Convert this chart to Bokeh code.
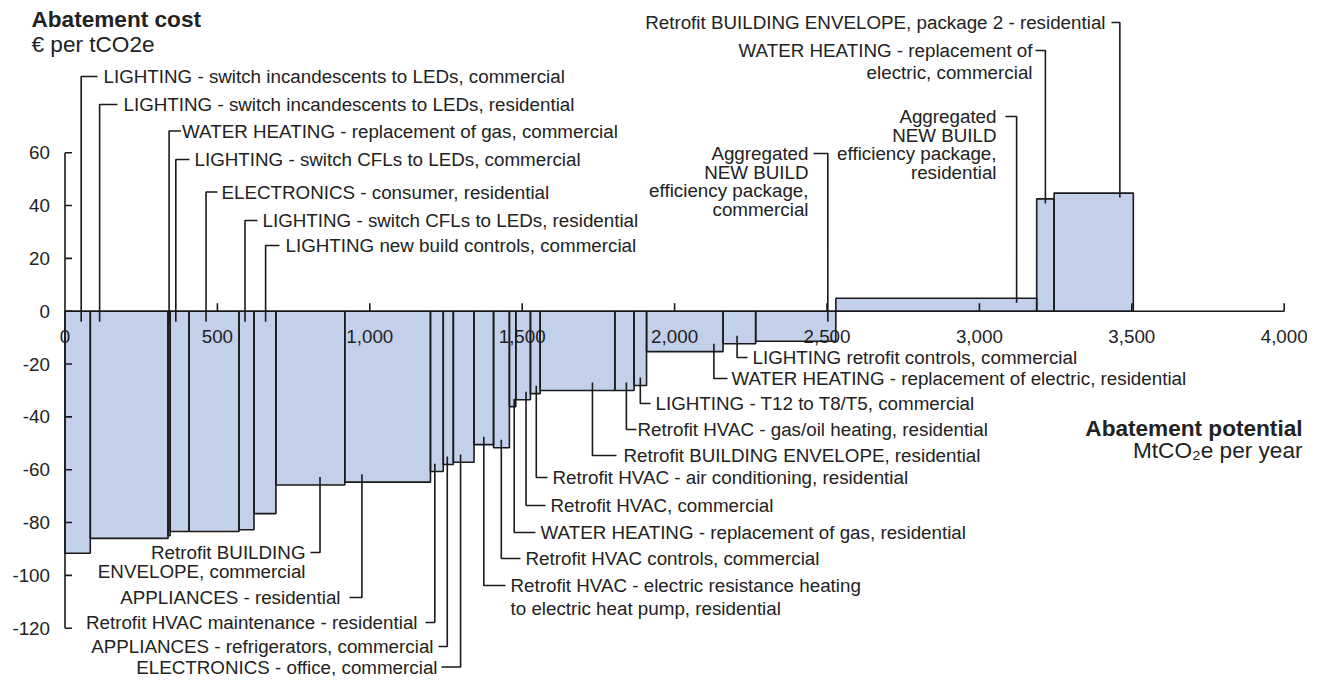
from bokeh.plotting import figure
from bokeh.models import Range1d, ColumnDataSource
from bokeh.core.properties import value
from bokeh.embed import file_html
from bokeh.resources import INLINE

# ---------------- data ----------------
measures = [
    "LIGHTING - switch incandescents to LEDs, commercial",
    "LIGHTING - switch incandescents to LEDs, residential",
    "WATER HEATING - replacement of gas, commercial",
    "LIGHTING - switch CFLs to LEDs, commercial",
    "ELECTRONICS - consumer, residential",
    "LIGHTING - switch CFLs to LEDs, residential",
    "LIGHTING new build controls, commercial",
    "Retrofit BUILDING\nENVELOPE, commercial",
    "APPLIANCES - residential",
    "Retrofit HVAC maintenance - residential",
    "APPLIANCES - refrigerators, commercial",
    "ELECTRONICS - office, commercial",
    "Retrofit HVAC - electric resistance heating\nto electric heat pump, residential",
    "Retrofit HVAC controls, commercial",
    "WATER HEATING - replacement of gas, residential",
    "Retrofit HVAC, commercial",
    "Retrofit HVAC - air conditioning, residential",
    "Retrofit BUILDING ENVELOPE, residential",
    "Retrofit HVAC - gas/oil heating, residential",
    "LIGHTING - T12 to T8/T5, commercial",
    "WATER HEATING - replacement of electric, residential",
    "LIGHTING retrofit controls, commercial",
    "Aggregated\nNEW BUILD\nefficiency package,\ncommercial",
    "Aggregated\nNEW BUILD\nefficiency package,\nresidential",
    "WATER HEATING - replacement of\nelectric, commercial",
    "Retrofit BUILDING ENVELOPE, package 2 - residential",
]
potential = [83, 255, 7, 62, 164, 49, 72, 226, 281, 42, 33, 68, 64, 52, 21,
             48, 32, 245, 63, 41, 251, 107, 263, 659, 57, 260]
cost = [-91.6, -86.0, -85.0, -83.4, -83.4, -82.7, -76.6, -65.8, -64.7, -60.7,
        -58.0, -57.2, -50.5, -51.7, -36.1, -33.5, -31.2, -30.0, -30.0, -28.1,
        -15.3, -12.3, -11.4, 4.9, 42.5, 44.7]

x_ticks = [0, 500, 1000, 1500, 2000, 2500, 3000, 3500, 4000]
x_tick_labels = ["0", "500", "1,000", "1,500", "2,000", "2,500", "3,000", "3,500", "4,000"]
y_ticks = [-120, -100, -80, -60, -40, -20, 0, 20, 40, 60]
y_tick_labels = ["-120", "-100", "-80", "-60", "-40", "-20", "0", "20", "40", "60"]

y_title = ["Abatement cost", "€ per tCO2e"]
x_title = ["Abatement potential", "MtCO₂e per year"]

# ---------------- layout (pixels of the picture) ----------------
X0, SX = 64.5, 0.3048      # px of value 0, px per MtCO2e
Y0, SY = 310.7, 2.642      # px of value 0, px per EUR
W, H = 1307, 676

def X(px):
    return (px - X0) / SX

def Y(py):
    return (Y0 - py) / SY

# leader position inside bar (fraction), first line y, text x, align, line gap, h-gap
label_layout = [
    (0.64, 76, 103, "left", 0, 6),
    (0.12, 104, 123, "left", 0, 6),
    (0.50, 130.5, 181.5, "left", 0, 1),
    (0.30, 159, 194, "left", 0, 5),
    (0.34, 191.5, 221, "left", 0, 4),
    (0.40, 220, 262, "left", 0, 5),
    (0.53, 245, 285, "left", 0, 6),
    (0.64, 552, 305, "right", 19, 5),
    (0.20, 597, 340, "right", 0, 9),
    (0.34, 622, 417, "right", 0, 8),
    (0.40, 646, 433, "right", 0, 5),
    (0.35, 666.5, 437, "right", 0, 4),
    (0.50, 585, 510, "left", 23, 5),
    (0.49, 558, 525, "left", 0, 5),
    (0.75, 532, 540, "left", 0, 5),
    (0.70, 505, 550, "left", 0, 5),
    (0.60, 477, 552, "left", 0, 5),
    (0.70, 455, 623, "left", 0, 7),
    (0.60, 429, 637, "left", 0, 1),
    (0.50, 403, 655, "left", 0, 5),
    (0.88, 378, 731, "left", 0, 4),
    (0.43, 357, 752, "left", 0, 5),
    (0.90, 153, 808, "right", 18.5, 5),
    (0.90, 116, 996, "right", 18.5, 9),
    (0.50, 50, 1032, "right", 22, 3),
    (0.83, 22, 1105, "right", 0, 6),
]

FONT = value("Liberation Sans")
TXT = "#222222"
LINE = "#1a1a1a"
FILL = "#c3d0ea"
LABEL_SIZE = "18.8px"
TITLE_SIZE = "22.6px"
LW = 1.6

p = figure(width=W, height=H, output_backend="svg", toolbar_location=None,
           x_range=Range1d(X(0), X(W)), y_range=Range1d(Y(H), Y(0)),
           x_axis_type=None, y_axis_type=None, min_border=0,
           outline_line_color=None, background_fill_color="white")

# bars
rights, lefts = [], []
acc = 0
for w in potential:
    lefts.append(acc)
    acc += w
    rights.append(acc)
tops = [max(c, 0) for c in cost]
bots = [min(c, 0) for c in cost]
bars = ColumnDataSource(dict(left=lefts, right=rights, top=tops, bottom=bots))
p.quad(left="left", right="right", top="top", bottom="bottom", source=bars,
       fill_color=FILL, line_color=None)

# x tick labels (drawn inside the bars, under their outlines)
p.text(x=x_ticks, y=[Y(336)] * len(x_ticks), text=x_tick_labels,
       text_font=FONT, text_font_size=LABEL_SIZE, text_color=TXT,
       text_align="center", text_baseline="middle")

p.quad(left="left", right="right", top="top", bottom="bottom", source=bars,
       fill_alpha=0, line_color=LINE, line_width=LW)

# axes
p.segment(x0=[0], y0=[0], x1=[x_ticks[-1]], y1=[0], line_color=LINE, line_width=LW)
p.segment(x0=[0], y0=[y_ticks[0]], x1=[0], y1=[y_ticks[-1]], line_color=LINE, line_width=LW)
xt = [t for t in x_ticks if t > 0]
p.segment(x0=xt, y0=[0] * len(xt), x1=xt, y1=[8 / SY] * len(xt), line_color=LINE, line_width=LW)
p.segment(x0=[0] * len(y_ticks), y0=y_ticks, x1=[7 / SX] * len(y_ticks), y1=y_ticks,
          line_color=LINE, line_width=LW)
p.text(x=[X(49.5)] * len(y_ticks), y=y_ticks, text=y_tick_labels,
       text_font=FONT, text_font_size=LABEL_SIZE, text_color=TXT,
       text_align="right", text_baseline="middle")

# axis titles
p.text(x=[X(31)], y=[Y(18.5)], text=[y_title[0]], text_font=FONT, text_font_style="bold",
       text_font_size=TITLE_SIZE, text_color=TXT, text_align="left", text_baseline="middle")
p.text(x=[X(31)], y=[Y(43.5)], text=[y_title[1]], text_font=FONT,
       text_font_size=TITLE_SIZE, text_color=TXT, text_align="left", text_baseline="middle")
p.text(x=[X(1302)], y=[Y(428)], text=[x_title[0]], text_font=FONT, text_font_style="bold",
       text_font_size=TITLE_SIZE, text_color=TXT, text_align="right", text_baseline="middle")
p.text(x=[X(1302)], y=[Y(450)], text=[x_title[1]], text_font=FONT,
       text_font_size=TITLE_SIZE, text_color=TXT, text_align="right", text_baseline="middle")

# labels and leaders
lx, ly, lt, rx, ry, rt = [], [], [], [], [], []
xs, ys = [], []
for i, name in enumerate(measures):
    frac, y1, tx, align, gap, hgap = label_layout[i]
    lines = name.split("\n")
    for k, line in enumerate(lines):
        if align == "left":
            lx.append(X(tx)); ly.append(Y(y1 + k * gap)); lt.append(line)
        else:
            rx.append(X(tx)); ry.append(Y(y1 + k * gap)); rt.append(line)
    lead_x = lefts[i] + frac * potential[i]
    if y1 < Y0:   # label above the axis
        end = cost[i] - 1.7 if cost[i] > 0 else -4.0
    else:
        end = cost[i] + 3.0
    hx = X(tx - hgap) if align == "left" else X(tx + hgap)
    xs.append([hx, lead_x, lead_x])
    ys.append([Y(y1), Y(y1), end])

p.multi_line(xs=xs, ys=ys, line_color=LINE, line_width=LW)
p.text(x=lx, y=ly, text=lt, text_font=FONT, text_font_size=LABEL_SIZE, text_color=TXT,
       text_align="left", text_baseline="middle")
p.text(x=rx, y=ry, text=rt, text_font=FONT, text_font_size=LABEL_SIZE, text_color=TXT,
       text_align="right", text_baseline="middle")

open("out.html", "w").write(file_html(p, INLINE))
